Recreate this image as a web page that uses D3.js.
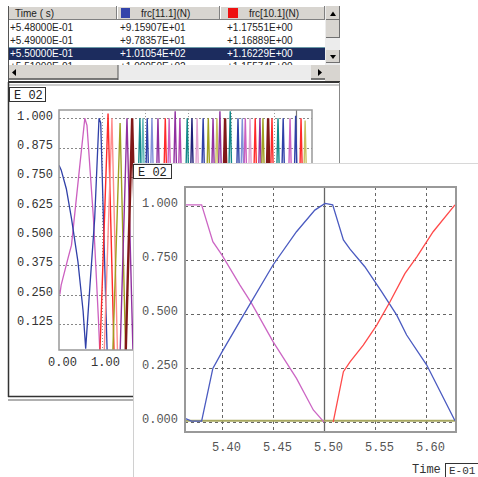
<!DOCTYPE html>
<html><head><meta charset="utf-8">
<script src="https://cdn.jsdelivr.net/npm/d3@7"></script>
<style>body{margin:0;background:#fff;} svg{display:block;}</style>
</head><body><svg id="c" width="478" height="477"></svg>
<script>
// ---------------- DATA ----------------
const tableHeaders = ["Time ( s)", "frc[11.1](N)", "frc[10.1](N)"];
const tableTime  = ["+5.48000E-01", "+5.49000E-01", "+5.50000E-01", "+5.51000E-01"];
const tableFrc11 = ["+9.15907E+01", "+9.78357E+01", "+1.01054E+02", "+1.00050E+02"];
const tableFrc10 = ["+1.17551E+00", "+1.16889E+00", "+1.16229E+00", "+1.15574E+00"];
const selectedRow = 2;

// back chart (overview) ticks
const backYTicks = [0.125, 0.25, 0.375, 0.5, 0.625, 0.75, 0.875, 1.0];
const backXGrid = [1, 2, 3, 4, 5];
const backXLabels = [0, 1];
// early part of the overview: explicit points
const backPinkT = [0, 0.02, 0.05, 0.21, 0.29, 0.49, 0.60, 0.65, 0.80, 0.915, 0.95];
const backPinkV = [0.27, 0.25, 0.29, 0.405, 0.46, 0.81, 1.0, 0.97, 0.575, 0.15, 0.0];
const backBlueT = [0, 0.05, 0.17, 0.29, 0.44, 0.56, 0.62, 0.72, 0.83, 0.93, 0.97, 1.12];
const backBlueV = [0.80, 0.78, 0.70, 0.574, 0.39, 0.18, 0.02, 0.29, 0.575, 1.0, 0.98, 0.0];
// later load pulses of successive elements: start time, peak time, end time, peak value, colour group
const pulseStart = [0.95,1.05,1.25,1.42,1.55,1.74,1.82,1.92,2.03,2.17,2.34,2.43,2.57,2.68,2.85,2.96,3.08,3.22,3.34,3.45,3.54,3.61,3.73,3.85,4.03,4.13,4.20,4.31,4.43,4.54,4.61,4.73,4.82,4.96,5.08,5.24,5.38,5.51,5.60];
const pulsePeak  = [1.14,1.23,1.42,1.58,1.70,1.88,1.95,2.05,2.16,2.30,2.47,2.56,2.70,2.81,2.98,3.09,3.21,3.35,3.47,3.58,3.67,3.74,3.86,3.98,4.16,4.26,4.33,4.44,4.56,4.67,4.74,4.86,4.95,5.09,5.21,5.37,5.50,5.625,5.72];
const pulseEnd   = [1.28,1.36,1.55,1.72,1.84,2.00,2.08,2.18,2.29,2.43,2.60,2.69,2.83,2.94,3.11,3.22,3.34,3.48,3.60,3.71,3.80,3.87,3.99,4.11,4.29,4.39,4.46,4.57,4.69,4.80,4.87,4.99,5.08,5.22,5.34,5.50,5.63,5.75,5.85];
const pulseValue = [1.02,1.0,0.98,1.0,1.0,1.0,1.0,1.0,1.0,1.0,1.0,1.0,1.03,1.0,1.0,1.0,1.0,1.0,1.0,1.0,1.0,1.03,1.0,1.03,1.0,1.0,1.0,1.0,1.0,1.0,1.0,1.0,1.0,1.0,1.0,1.0,1.01,1.0,0.99];
const pulseGroup = ["red","lightred","olive","purple","maroon","teal","lightteal","blue","lightblue","purple","red","pink","purple","magenta","teal","navy","lightpink","blue","olive","purple","khaki","purple","maroon","teal","blue","lightblue","pink","lightpink","red","purple","olive","maroon","red","teal","blue","pink","blue","red","khaki"];

// front chart (zoom) ticks
const frontYTicks = [0, 0.25, 0.5, 0.75, 1.0];
const frontXTicks = [5.40, 5.45, 5.50, 5.55, 5.60];
const cursorTime = 5.50;
const frontPinkT = [5.3637, 5.380, 5.391, 5.400, 5.4176, 5.429, 5.450, 5.473, 5.4895, 5.500];
const frontPinkV = [1.005, 1.005, 0.835, 0.773, 0.634, 0.549, 0.372, 0.202, 0.056, 0.0];
const frontBlueT = [5.3637, 5.370, 5.380, 5.391, 5.400, 5.421, 5.450, 5.473, 5.491, 5.501, 5.5085, 5.519, 5.5255, 5.540, 5.5566, 5.5713, 5.581, 5.6007, 5.6284];
const frontBlueV = [0.017, 0.004, 0.004, 0.248, 0.325, 0.495, 0.727, 0.881, 0.981, 1.012, 1.005, 0.843, 0.80, 0.719, 0.603, 0.495, 0.403, 0.264, 0.006];
const frontRedT = [5.509, 5.519, 5.5255, 5.5385, 5.5517, 5.5647, 5.5794, 5.591, 5.607, 5.6284];
const frontRedV = [0.0, 0.233, 0.279, 0.356, 0.449, 0.557, 0.688, 0.765, 0.881, 1.005];
const frontOliveT = [5.3637, 5.6294];
const frontOliveV = [0.006, 0.006];
const axisTitle = "Time";
const axisUnit = "E-01";

// ---------------- STYLES ----------------
const groupColor = {
  red:"#ff2a2a", lightred:"#ff8c8c", olive:"#a0a020", khaki:"#c8c060", purple:"#9030a0",
  magenta:"#b040b0", maroon:"#801818", teal:"#108888", lightteal:"#60b8b8", blue:"#3040a8",
  lightblue:"#8090d8", navy:"#202078", pink:"#cc60c0", lightpink:"#e0a0d0"
};
const mono = "'Liberation Mono','DejaVu Sans Mono',monospace";
const sans = "'Liberation Sans',Arial,sans-serif";
const svg = d3.select("#c");
svg.append("rect").attr("width",478).attr("height",477).attr("fill","#fff");

// ---------------- TABLE ----------------
const tbl = svg.append("g");
const colX = [8,117,220,325];
tbl.append("rect").attr("x",8).attr("y",6).attr("width",332).attr("height",75).attr("fill","#fff");
for (let i=0;i<3;i++){
  const x0=colX[i], x1=colX[i+1];
  tbl.append("rect").attr("x",x0).attr("y",6).attr("width",x1-x0).attr("height",14).attr("fill","#d8d5d0");
  tbl.append("line").attr("x1",x0).attr("x2",x1).attr("y1",6.5).attr("y2",6.5).attr("stroke","#fff");
  tbl.append("line").attr("x1",x0+0.5).attr("x2",x0+0.5).attr("y1",6).attr("y2",20).attr("stroke","#fff");
  tbl.append("line").attr("x1",x1-0.5).attr("x2",x1-0.5).attr("y1",6).attr("y2",20).attr("stroke","#808080");
  tbl.append("line").attr("x1",x0).attr("x2",x1).attr("y1",19.5).attr("y2",19.5).attr("stroke","#808080");
}
tbl.append("text").attr("x",15).attr("y",17).text(tableHeaders[0]);
tbl.append("rect").attr("x",121).attr("y",8).attr("width",9).attr("height",10).attr("fill","#3344aa");
tbl.append("text").attr("x",141).attr("y",17).text(tableHeaders[1]);
tbl.append("rect").attr("x",228).attr("y",8).attr("width",10).attr("height",10).attr("fill","#ee1111");
tbl.append("text").attr("x",249).attr("y",17).text(tableHeaders[2]);
tbl.selectAll("text").attr("font-family",sans).attr("font-size",10).attr("fill","#222");

const rowsG = tbl.append("g");
rowsG.append("clipPath").attr("id","rowclip").append("rect").attr("x",8).attr("y",20).attr("width",317).attr("height",45);
const rowG = rowsG.append("g").attr("clip-path","url(#rowclip)");
const rowBase = [31, 44, 57, 70];
rowG.append("rect").attr("x",8).attr("y",47).attr("width",317).attr("height",1.2).attr("fill","#6a9aa8");
rowG.append("rect").attr("x",8).attr("y",48).attr("width",317).attr("height",12).attr("fill","#1c2c5e");
const rowData = tableTime.map((t,i)=>[t,tableFrc11[i],tableFrc10[i]]);
rowData.forEach((r,i)=>{
  [10,120,227].forEach((x,j)=>{
    rowG.append("text").attr("x",x).attr("y",rowBase[i]).text(r[j])
      .attr("font-family",sans).attr("font-size",10)
      .attr("fill", i===selectedRow ? "#fff" : "#222");
  });
});
// horizontal scrollbar
tbl.append("rect").attr("x",8).attr("y",65).attr("width",317).attr("height",15).attr("fill","#ececec");
tbl.append("rect").attr("x",8).attr("y",65).attr("width",110).attr("height",14).attr("fill","#d8d5d0");
tbl.append("line").attr("x1",8).attr("x2",118).attr("y1",79).attr("y2",79).attr("stroke","#555").attr("stroke-width",1.5);
tbl.append("line").attr("x1",118).attr("x2",118).attr("y1",65).attr("y2",80).attr("stroke","#555");
tbl.append("path").attr("d","M16,69 L12,72.5 L16,76 Z").attr("fill","#000");
tbl.append("rect").attr("x",311).attr("y",65).attr("width",14).attr("height",14).attr("fill","#d8d5d0");
tbl.append("line").attr("x1",311).attr("x2",325).attr("y1",79).attr("y2",79).attr("stroke","#555").attr("stroke-width",1.5);
tbl.append("path").attr("d","M318,69 L322,72.5 L318,76 Z").attr("fill","#000");
// vertical scrollbar
tbl.append("rect").attr("x",325).attr("y",6).attr("width",15).attr("height",75).attr("fill","#ececec");
[[6,20],[20,38],[50,63]].forEach(([a,b])=>{
  tbl.append("rect").attr("x",326).attr("y",a).attr("width",14).attr("height",b-a).attr("fill","#d8d5d0");
  tbl.append("line").attr("x1",326).attr("x2",340).attr("y1",b-0.5).attr("y2",b-0.5).attr("stroke","#707070");
  tbl.append("line").attr("x1",339.5).attr("x2",339.5).attr("y1",a).attr("y2",b).attr("stroke","#707070");
});
tbl.append("path").attr("d","M330,16 L333,11.5 L336,16 Z").attr("fill","#000");
tbl.append("path").attr("d","M330,55 L333,59 L336,55 Z").attr("fill","#000");
tbl.append("rect").attr("x",325).attr("y",65).attr("width",15).attr("height",16).attr("fill","#d8d5d0");
tbl.append("line").attr("x1",8.5).attr("x2",8.5).attr("y1",6).attr("y2",81).attr("stroke","#555");

// ---------------- BACK WINDOW ----------------
const back = svg.append("g");
back.append("line").attr("x1",8).attr("x2",340).attr("y1",82).attr("y2",82).attr("stroke","#333").attr("stroke-width",2);
back.append("line").attr("x1",8).attr("x2",340).attr("y1",85).attr("y2",85).attr("stroke","#999").attr("stroke-width",1);
back.append("line").attr("x1",339.5).attr("x2",339.5).attr("y1",82).attr("y2",164).attr("stroke","#888");
back.append("line").attr("x1",8.5).attr("x2",8.5).attr("y1",82).attr("y2",397).attr("stroke","#333").attr("stroke-width",1.5);
back.append("line").attr("x1",8).attr("x2",134).attr("y1",396.5).attr("y2",396.5).attr("stroke","#333").attr("stroke-width",1.5);
back.append("line").attr("x1",8).attr("x2",134).attr("y1",400).attr("y2",400).attr("stroke","#b0b0b0").attr("stroke-width",2);
back.append("rect").attr("x",9.5).attr("y",87.5).attr("width",36).attr("height",14).attr("fill","#fff").attr("stroke","#333");
back.append("text").attr("x",14).attr("y",99).text("E 02").attr("font-family",mono).attr("font-size",12).attr("fill","#222");

const xB = d3.scaleLinear().domain([0, 5.88]).range([59, 312]);
const yB = d3.scaleLinear().domain([0.014, 1.035]).range([350, 110]);
back.append("clipPath").attr("id","bclip").append("rect").attr("x",59).attr("y",110).attr("width",253).attr("height",240);
// grid
back.append("g").selectAll("line").data(backYTicks).join("line")
  .attr("x1",59).attr("x2",312).attr("y1",d=>Math.round(yB(d))+0.5).attr("y2",d=>Math.round(yB(d))+0.5)
  .attr("stroke","#888").attr("stroke-dasharray","2,2");
back.append("g").selectAll("line").data(backXGrid).join("line")
  .attr("y1",110).attr("y2",350).attr("x1",d=>Math.round(xB(d))+0.5).attr("x2",d=>Math.round(xB(d))+0.5)
  .attr("stroke","#999").attr("stroke-dasharray","1,2");
back.append("line").attr("y1",110).attr("y2",350).attr("x1",Math.round(xB(cursorTime))+0.5).attr("x2",Math.round(xB(cursorTime))+0.5)
  .attr("stroke","#777").attr("stroke-width",1.2);
const bl = d3.line().x(d=>xB(d[0])).y(d=>yB(d[1]));
const bData = back.append("g").attr("clip-path","url(#bclip)");
bData.append("path").attr("d",bl(backPinkT.map((t,i)=>[t,backPinkV[i]]))).attr("fill","none").attr("stroke","#cc60c0").attr("stroke-width",1.3);
bData.append("path").attr("d",bl(backBlueT.map((t,i)=>[t,backBlueV[i]]))).attr("fill","none").attr("stroke","#3040a8").attr("stroke-width",1.3);
pulsePeak.forEach((p,i)=>{
  const g = pulseGroup[i];
  bData.append("path")
    .attr("d", bl([[pulseStart[i],0],[p,pulseValue[i]],[pulseEnd[i],0]]))
    .attr("fill","none").attr("stroke",groupColor[g])
    .attr("stroke-width", g==="maroon" ? 2.4 : 1.4);
});
back.append("rect").attr("x",59).attr("y",110).attr("width",253).attr("height",240).attr("fill","none").attr("stroke","#999").attr("stroke-width",1.5);
const bYAxis = back.append("g").attr("transform","translate(59,-3)")
  .call(d3.axisLeft(yB).tickValues(backYTicks).tickFormat(d3.format(".3f")).tickSize(0).tickPadding(6));
const bXAxis = back.append("g").attr("transform","translate(3,350)")
  .call(d3.axisBottom(xB).tickValues(backXLabels).tickFormat(d3.format(".2f")).tickSize(0).tickPadding(7));
[bYAxis,bXAxis].forEach(a=>{a.select(".domain").remove(); a.selectAll("text").attr("font-family",mono).attr("font-size",12).attr("fill","#333");});

// ---------------- FRONT WINDOW ----------------
const front = svg.append("g");
front.append("rect").attr("x",133).attr("y",163).attr("width",345).attr("height",314).attr("fill","#fff");
front.append("line").attr("x1",133.5).attr("x2",133.5).attr("y1",163).attr("y2",477).attr("stroke","#d0d0d0");
front.append("line").attr("x1",133).attr("x2",478).attr("y1",163.5).attr("y2",163.5).attr("stroke","#d8d8d8");
front.append("rect").attr("x",133.5).attr("y",164.5).attr("width",38).attr("height",14).attr("fill","#fff").attr("stroke","#333");
front.append("text").attr("x",138).attr("y",176).text("E 02").attr("font-family",mono).attr("font-size",12).attr("fill","#222");

const xF = d3.scaleLinear().domain([5.3637, 5.6294]).range([185, 456]);
const yF = d3.scaleLinear().domain([-0.046, 1.088]).range([432, 187]);
front.append("clipPath").attr("id","fclip").append("rect").attr("x",185).attr("y",187).attr("width",271).attr("height",245);
front.append("g").selectAll("line").data(frontYTicks).join("line")
  .attr("x1",185).attr("x2",456).attr("y1",d=>Math.round(yF(d))+0.5).attr("y2",d=>Math.round(yF(d))+0.5)
  .attr("stroke","#666").attr("stroke-dasharray","3,3");
front.append("g").selectAll("line").data(frontXTicks.filter(d=>d!==cursorTime)).join("line")
  .attr("y1",187).attr("y2",432).attr("x1",d=>Math.round(xF(d))+0.5).attr("x2",d=>Math.round(xF(d))+0.5)
  .attr("stroke","#666").attr("stroke-dasharray","3,3");
front.append("line").attr("y1",187).attr("y2",432).attr("x1",Math.round(xF(cursorTime))+0.5).attr("x2",Math.round(xF(cursorTime))+0.5)
  .attr("stroke","#666").attr("stroke-width",1.3);
const fl = d3.line().x(d=>xF(d[0])).y(d=>yF(d[1]));
const fData = front.append("g").attr("clip-path","url(#fclip)");
const fSeries = [
  [frontOliveT, frontOliveV, "#a8a860", 2],
  [frontPinkT, frontPinkV, "#cc66c4", 1.3],
  [frontBlueT, frontBlueV, "#4a5ac0", 1.3],
  [frontRedT, frontRedV, "#ff4a4a", 1.3]
];
fSeries.forEach(([T,V,c,w])=>{
  fData.append("path").attr("d",fl(T.map((t,i)=>[t,V[i]]))).attr("fill","none").attr("stroke",c).attr("stroke-width",w);
});
front.append("rect").attr("x",185).attr("y",187).attr("width",271).attr("height",245).attr("fill","none").attr("stroke","#999").attr("stroke-width",2);
const fYAxis = front.append("g").attr("transform","translate(185,-3)")
  .call(d3.axisLeft(yF).tickValues(frontYTicks).tickFormat(d3.format(".3f")).tickSize(0).tickPadding(7));
const fXAxis = front.append("g").attr("transform","translate(4,432)")
  .call(d3.axisBottom(xF).tickValues(frontXTicks).tickFormat(d3.format(".2f")).tickSize(0).tickPadding(10));
[fYAxis,fXAxis].forEach(a=>{a.select(".domain").remove(); a.selectAll("text").attr("font-family",mono).attr("font-size",12).attr("fill","#555");});

front.append("text").attr("x",412).attr("y",473).text(axisTitle).attr("font-family",mono).attr("font-size",12).attr("fill","#333");
front.append("rect").attr("x",445.5).attr("y",463.5).attr("width",40).attr("height",20).attr("fill","#fff").attr("stroke","#333");
front.append("text").attr("x",449).attr("y",474).text(axisUnit).attr("font-family",mono).attr("font-size",11).attr("fill","#333");
</script>
</body></html>
